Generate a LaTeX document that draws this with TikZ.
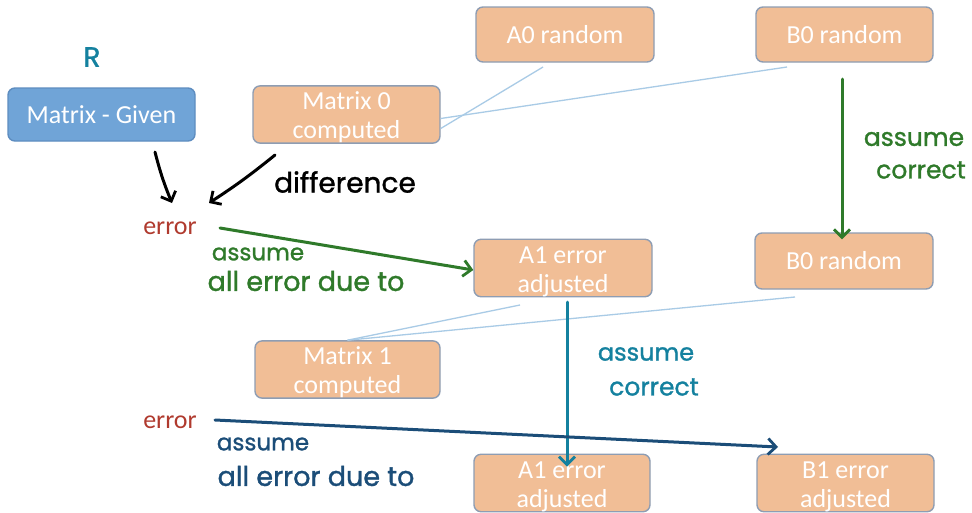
\documentclass[tikz,border=0pt]{standalone}
\usepackage{fontspec}
\newfontfamily\boxfont{Carlito}
\newfontfamily\handfont{Poppins}[FakeBold=1.2]
\usetikzlibrary{arrows.meta}
\definecolor{peach}{HTML}{F1BE96}
\definecolor{peachline}{HTML}{8E9DB3}
\definecolor{givenfill}{HTML}{70A4D7}
\definecolor{givenline}{HTML}{5E8DC0}
\definecolor{linkblue}{HTML}{A9CBE6}
\definecolor{errred}{HTML}{B03A2E}
\definecolor{inkgreen}{HTML}{2F7A2A}
\definecolor{inkteal}{HTML}{14819F}
\definecolor{inknavy}{HTML}{1B4D78}
\tikzset{
  box/.style={draw=peachline, fill=peach, line width=1.4pt, rounded corners=7pt,
    inner sep=0pt, align=center, text=white,
    font=\boxfont\fontsize{26}{29}\selectfont},
  givenbox/.style={box, draw=givenline, fill=givenfill},
  errlabel/.style={text=errred, font=\boxfont\fontsize{26}{28}\selectfont, inner sep=0pt},
  hand/.style={inner sep=0pt},
  link/.style={draw=linkblue, line width=1.3pt},
  ink/.style={line width=3pt, line cap=round, line join=round,
    -{Straight Barb[length=8pt,width=16pt,line width=2.8pt]}},
}
\newcommand{\hw}[1]{\handfont\fontsize{#1}{#1}\selectfont}
\begin{document}
\begin{tikzpicture}[x=1pt,y=-1pt]
\useasboundingbox (0,0) rectangle (972,512);
\fill[white] (0,0) rectangle (972,512);

% top row
\node[givenbox, minimum width=187pt, minimum height=53pt] (given) at (101.5,114.5) {Matrix - Given};
\node[box, minimum width=187pt, minimum height=53pt] (m0) at (346.5,114.5) {\rule{0pt}{24pt}Matrix 0\\computed};
\node[box, minimum width=178pt, minimum height=55pt] (a0) at (565,34.5) {A0 random};
\node[box, minimum width=177pt, minimum height=55pt] (b0) at (844.5,34.5) {B0 random};

% second step
\node[box, minimum width=178pt, minimum height=56pt] (a1) at (563,268) {\rule{0pt}{24pt}A1 error\\adjusted};
\node[box, minimum width=178pt, minimum height=56pt] (b0m) at (844,261) {B0 random};
\node[box, minimum width=185pt, minimum height=53pt] (m1) at (347.5,369.5) {\rule{0pt}{24pt}Matrix 1\\computed};

% third step
\node[box, minimum width=176pt, minimum height=55pt] (a1b) at (562,483) {\rule{0pt}{24pt}A1 error\\adjusted};
\node[box, minimum width=177pt, minimum height=55pt] (b1) at (845.5,483) {\rule{0pt}{24pt}B1 error\\adjusted};

% error labels
\node[errlabel] (err1) at (170,228) {error};
\node[errlabel] (err2) at (170,422) {error};

% products feeding the computed matrices
\coordinate (a0foot) at (543,67);
\coordinate (b0foot) at (787,67);
\coordinate (a1foot) at (520,305);
\coordinate (b0mfoot) at (795,297);
\draw[link] (a0foot) -- ([yshift=-14pt]m0.east);
\draw[link] (b0foot) -- ([yshift=-4pt]m0.east);
\draw[link] (a1foot) -- (m1.north);
\draw[link] (b0mfoot) -- (m1.north);

% handwritten notes
\node[hand, text=inkteal, font=\hw{28}] (rlabel) at (92,57) {R};
\node[hand, text=black, font=\hw{28}] (diff) at (345,182) {difference};

\coordinate (gvfoot) at (155,152);
\coordinate (gvtip) at (172,203);
\coordinate (m0foot) at (275,155);
\coordinate (m0tip) at (209,203);
\draw[ink, black] (gvfoot) to[bend right=4] (gvtip);
\draw[ink, black] (m0foot) to[bend left=3] (m0tip);

% first adjustment
\coordinate (gstart) at (220,228);
\draw[ink, inkgreen] (gstart) -- ([yshift=-2pt]a1.west);
\node[hand, text=inkgreen, font=\hw{23}] (gass) at (258,254) {assume};
\node[hand, text=inkgreen, font=\hw{27}] (gdue) at (306,281) {all error due to};

\coordinate (b0out) at (842,79);
\draw[ink, inkgreen] (b0out) -- ([yshift=-7pt]b0out |- b0m.north);
\node[hand, text=inkgreen, font=\hw{25}] (gass2) at (914,139) {assume};
\node[hand, text=inkgreen, font=\hw{25}] (gcor2) at (921,170) {correct};

% second adjustment
\coordinate (a1out) at (567,302);
\draw[ink, inkteal] (a1out) -- ([yshift=-13pt]a1out |- a1b.north);
\node[hand, text=inkteal, font=\hw{24}] (tass) at (646,354) {assume};
\node[hand, text=inkteal, font=\hw{25}] (tcor) at (654,387) {correct};

\coordinate (nstart) at (215,420);
\coordinate (ntip) at (778,447);
\draw[ink, inknavy] (nstart) -- (ntip);
\node[hand, text=inknavy, font=\hw{23}] (nass) at (263,444) {assume};
\node[hand, text=inknavy, font=\hw{27}] (ndue) at (316,476) {all error due to};
\end{tikzpicture}
\end{document}
